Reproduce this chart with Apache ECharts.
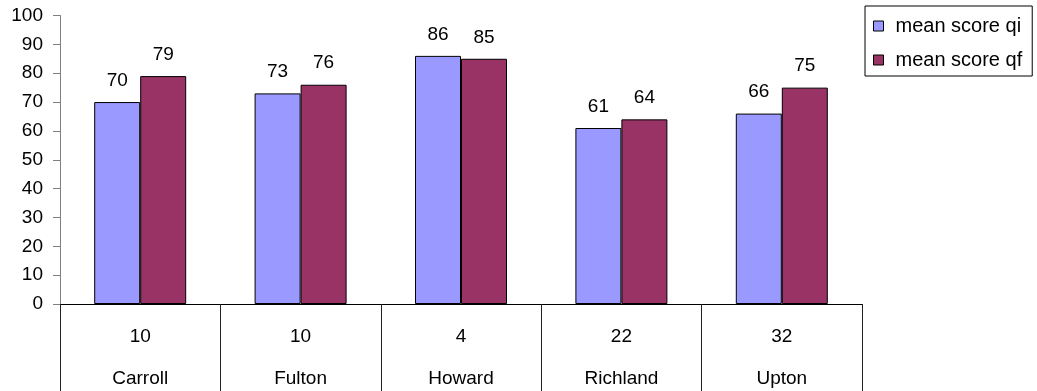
<!DOCTYPE html>
<html>
<head>
<meta charset="utf-8">
<script src="https://cdn.jsdelivr.net/npm/echarts@6/dist/echarts.min.js"></script>
<style>
  html, body { margin: 0; padding: 0; background: #fff; }
  #chart { width: 1037px; height: 391px; }
</style>
</head>
<body>
<div id="chart"></div>
<script>
// Counties, their respondent counts, and the two mean scores
const counties = ['Carroll', 'Fulton', 'Howard', 'Richland', 'Upton'];
const counts = [10, 10, 4, 22, 32];
const meanScoreQi = [70, 73, 86, 61, 66];
const meanScoreQf = [79, 76, 85, 64, 75];
const yTicks = { min: 0, max: 100, step: 10 };

const FONT = "'Liberation Sans', Arial, Helvetica, sans-serif";
const categories = counties.map((c, i) => counts[i] + '\n' + c);

const chart = echarts.init(document.getElementById('chart'), null, { renderer: 'canvas' });

chart.setOption({
  animation: false,
  backgroundColor: '#fff',
  textStyle: { fontFamily: FONT, color: '#000' },
  grid: { left: 60, right: 175, top: 15.5, bottom: 87, containLabel: false, outerBoundsMode: 'none' },
  legend: {
    orient: 'vertical',
    left: 865,
    top: 6,
    itemWidth: 10,
    itemHeight: 10,
    itemGap: 14,
    padding: [10, 10, 6, 8],
    borderColor: '#000',
    borderWidth: 1,
    icon: 'rect',
    textStyle: { fontFamily: FONT, fontSize: 20, color: '#000', lineHeight: 20, padding: [0, 0, 0, 7] },
    itemStyle: { borderColor: '#000', borderWidth: 1 },
    data: ['mean score qi', 'mean score qf']
  },
  xAxis: {
    type: 'category',
    data: categories,
    axisLine: { show: true, lineStyle: { color: '#000', width: 1 } },
    axisTick: {
      show: true,
      interval: 0,
      alignWithLabel: false,
      length: 90,
      lineStyle: { color: '#222', width: 1 }
    },
    axisLabel: {
      interval: 0,
      margin: 12,
      fontFamily: FONT,
      fontSize: 19,
      color: '#000',
      lineHeight: 42
    },
    splitLine: { show: false }
  },
  yAxis: {
    type: 'value',
    min: yTicks.min,
    max: yTicks.max,
    interval: yTicks.step,
    axisLine: { show: true, lineStyle: { color: '#808080', width: 1 } },
    axisTick: { show: true, length: 7, lineStyle: { color: '#808080', width: 1 } },
    axisLabel: { margin: 17, fontFamily: FONT, fontSize: 19, color: '#000' },
    splitLine: { show: false }
  },
  series: [
    {
      name: 'mean score qi',
      type: 'bar',
      data: meanScoreQi,
      barWidth: 46,
      barGap: '0%',
      itemStyle: { color: '#9999FF', borderColor: '#000', borderWidth: 1 },
      label: { show: true, position: 'top', distance: 12, fontFamily: FONT, fontSize: 19, color: '#000' }
    },
    {
      name: 'mean score qf',
      type: 'bar',
      data: meanScoreQf,
      barWidth: 46,
      barGap: '0%',
      itemStyle: { color: '#993366', borderColor: '#000', borderWidth: 1 },
      label: { show: true, position: 'top', distance: 12, fontFamily: FONT, fontSize: 19, color: '#000' }
    }
  ]
});
</script>
</body>
</html>
